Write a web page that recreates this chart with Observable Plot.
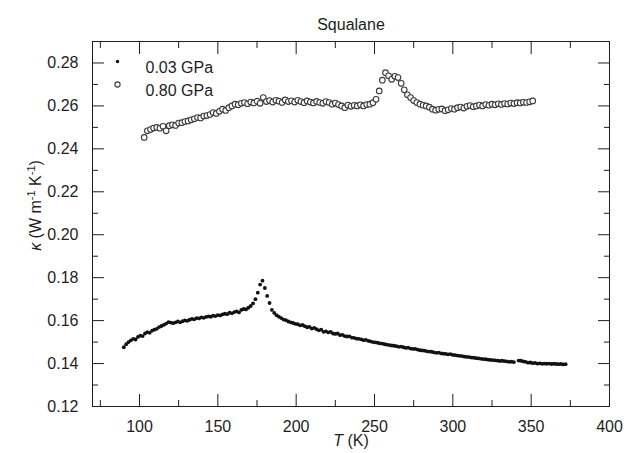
<!DOCTYPE html>
<html>
<head>
<meta charset="utf-8">
<script src="https://cdn.jsdelivr.net/npm/d3@7"></script>
<script src="https://cdn.jsdelivr.net/npm/@observablehq/plot@0.6"></script>
<style>
  html, body { margin: 0; padding: 0; background: #fff; }
</style>
</head>
<body>
<div id="chart"></div>
<script>
// ---- Data ----
const title = "Squalane";
const seriesNames = ["0.03 GPa", "0.80 GPa"];

// 0.03 GPa (filled dots): temperatures start at 90 K, every 1.5 K
const lowStartT = 90, lowStepT = 1.5;
const kappaLow = [
  0.1476,0.1490,0.1500,0.1508,0.1515,0.1512,0.1524,0.1530,0.1528,0.1540,
  0.1546,0.1543,0.1553,0.1558,0.1562,0.1570,0.1575,0.1580,0.1586,0.1593,
  0.1591,0.1588,0.1592,0.1596,0.1592,0.1597,0.1601,0.1599,0.1604,0.1608,
  0.1606,0.1612,0.1610,0.1615,0.1613,0.1617,0.1620,0.1618,0.1623,0.1621,
  0.1626,0.1624,0.1629,0.1632,0.1630,0.1637,0.1634,0.1640,0.1643,0.1638,
  0.1650,0.1654,0.1652,0.1660,0.1668,0.1680,0.1700,0.1730,0.1768,0.1786,
  0.1752,0.1715,0.1682,0.1650,0.1636,0.1625,0.1618,0.1612,0.1605,0.1602,
  0.1596,0.1592,0.1589,0.1585,0.1583,0.1578,0.1580,0.1574,0.1569,0.1571,
  0.1563,0.1566,0.1560,0.1555,0.1558,0.1548,0.1550,0.1545,0.1548,0.1540,
  0.1538,0.1540,0.1532,0.1534,0.1528,0.1526,0.1527,0.1521,0.1520,0.1516,
  0.1515,0.1513,0.1509,0.1510,0.1506,0.1503,0.1500,0.1499,0.1497,0.1494,
  0.1493,0.1490,0.1488,0.1486,0.1484,0.1483,0.1481,0.1478,0.1479,0.1476,
  0.1473,0.1474,0.1470,0.1468,0.1468,0.1465,0.1462,0.1461,0.1460,0.1457,
  0.1456,0.1455,0.1452,0.1450,0.1451,0.1447,0.1446,0.1445,0.1443,0.1444,
  0.1440,0.1439,0.1437,0.1436,0.1435,0.1432,0.1431,0.1430,0.1428,0.1427,
  0.1425,0.1424,0.1422,0.1421,0.1420,0.1418,0.1417,0.1416,0.1415,0.1414,
  0.1412,0.1413,0.1411,0.1410,0.1408,0.1409,0.1407,null,0.1414,0.1413,
  0.1410,0.1408,0.1404,0.1405,0.1402,0.1403,0.1400,0.1401,0.1399,0.1400,
  0.1399,0.1400,0.1398,0.1399,0.1398,0.1397,0.1398,0.1396,0.1397
];

// 0.80 GPa (open circles): temperatures start at 103 K, every 2 K
const highStartT = 103, highStepT = 2;
const kappaHigh = [
  0.2453,0.2484,0.2490,0.2497,0.2500,0.2496,0.2505,0.2484,0.2508,0.2512,
  0.2509,0.2520,0.2522,0.2527,0.2530,0.2535,0.2540,0.2546,0.2544,0.2553,
  0.2555,0.2560,0.2569,0.2565,0.2575,0.2585,0.2579,0.2592,0.2600,0.2608,
  0.2605,0.2612,0.2616,0.2610,0.2618,0.2614,0.2622,0.2612,0.2639,0.2620,
  0.2625,0.2618,0.2626,0.2622,0.2616,0.2628,0.2620,0.2624,0.2618,0.2626,
  0.2620,0.2615,0.2623,0.2618,0.2614,0.2621,0.2616,0.2612,0.2620,0.2616,
  0.2608,0.2613,0.2606,0.2600,0.2592,0.2604,0.2598,0.2603,0.2600,0.2605,
  0.2600,0.2606,0.2608,0.2615,0.2631,0.2670,0.2720,0.2755,0.2740,0.2724,
  0.2738,0.2732,0.2705,0.2675,0.2652,0.2639,0.2625,0.2616,0.2608,0.2603,
  0.2600,0.2594,0.2585,0.2580,0.2584,0.2586,0.2578,0.2582,0.2588,0.2585,
  0.2592,0.2595,0.2590,0.2598,0.2602,0.2596,0.2600,0.2604,0.2600,0.2606,
  0.2603,0.2608,0.2605,0.2610,0.2607,0.2611,0.2609,0.2613,0.2611,0.2615,
  0.2614,0.2617,0.2616,0.2619,0.2623
];

// Axis ticks
const xMajor = [100, 150, 200, 250, 300, 350, 400];
const xMinor = [75, 125, 175, 225, 275, 325, 375];
const yMajor = [0.12, 0.14, 0.16, 0.18, 0.20, 0.22, 0.24, 0.26, 0.28];
const yMinor = [0.13, 0.15, 0.17, 0.19, 0.21, 0.23, 0.25, 0.27];
const xDomain = [70, 400];
const yDomain = [0.12, 0.29];
const xLabel = "T (K)";
const yLabel = "κ (W m-1 K-1)";

// ---- Build tables ----
const low = kappaLow.map((k, i) => ({T: lowStartT + lowStepT * i, k})).filter(d => d.k != null);
const high = kappaHigh.map((k, i) => ({T: highStartT + highStepT * i, k}));

const ink = "#1e1e1e";
const blank = () => "";
const FS = 16;

const chart = Plot.plot({
  width: 634,
  height: 453,
  marginLeft: 92,
  marginRight: 25,
  marginTop: 41,
  marginBottom: 47,
  style: {fontFamily: "'Liberation Sans', Arial, sans-serif", fontSize: FS + "px", color: ink, background: "#fff"},
  x: {domain: xDomain},
  y: {domain: yDomain},
  marks: [
    // inward ticks on all four sides
    Plot.axisX(xMajor, {anchor: "bottom", tickSize: -12, tickFormat: blank, label: null, stroke: ink}),
    Plot.axisX(xMinor, {anchor: "bottom", tickSize: -6, tickFormat: blank, label: null, stroke: ink}),
    Plot.axisX(xMajor, {anchor: "top", tickSize: -12, tickFormat: blank, label: null, stroke: ink}),
    Plot.axisX(xMinor, {anchor: "top", tickSize: -6, tickFormat: blank, label: null, stroke: ink}),
    Plot.axisY(yMajor, {anchor: "left", tickSize: -12, tickFormat: blank, label: null, stroke: ink}),
    Plot.axisY(yMinor, {anchor: "left", tickSize: -6, tickFormat: blank, label: null, stroke: ink}),
    Plot.axisY(yMajor, {anchor: "right", tickSize: -12, tickFormat: blank, label: null, stroke: ink}),
    Plot.axisY(yMinor, {anchor: "right", tickSize: -6, tickFormat: blank, label: null, stroke: ink}),
    // tick labels
    Plot.axisX(xMajor, {anchor: "bottom", tickSize: 0, tickPadding: 14, label: null, fill: ink}),
    Plot.axisY(yMajor, {anchor: "left", tickSize: 0, tickPadding: 14, tickFormat: d3.format(".2f"), label: null, fill: ink}),
    Plot.frame({stroke: ink, strokeWidth: 1}),
    // data
    Plot.dot(high, {x: "T", y: "k", r: 2.8, stroke: "#3a3a3a", strokeWidth: 1.1, fill: "#fff"}),
    Plot.dot(low, {x: "T", y: "k", r: 1.9, fill: "#111", stroke: "none"}),
    // legend
    Plot.dot([seriesNames[0]], {frameAnchor: "top-left", dx: 25, dy: 20, r: 1.7, fill: "#111"}),
    Plot.dot([seriesNames[1]], {frameAnchor: "top-left", dx: 25, dy: 43, r: 2.6, stroke: "#3a3a3a", strokeWidth: 1.1, fill: "#fff"}),
    Plot.text([seriesNames[0]], {frameAnchor: "top-left", dx: 53, dy: 20, textAnchor: "start", fontSize: FS, fill: ink}),
    Plot.text([seriesNames[1]], {frameAnchor: "top-left", dx: 53, dy: 43, textAnchor: "start", fontSize: FS, fill: ink}),
    // title and axis labels
    Plot.text([title], {frameAnchor: "top", dy: -23, fontSize: FS, fill: ink}),
    Plot.text([xLabel], {frameAnchor: "bottom", dy: 39, fontSize: FS, fill: ink}),
    Plot.text([yLabel], {frameAnchor: "top-left", dx: -63, dy: 164, rotate: -90, textAnchor: "middle", fontSize: FS, fill: ink})
  ]
});

// rich text: italic symbols and superscripts
const SVGNS = "http://www.w3.org/2000/svg";
function rich(svg, match, parts) {
  svg.querySelectorAll("text").forEach(t => {
    if (t.textContent === match) {
      t.textContent = "";
      for (const p of parts) {
        const ts = document.createElementNS(SVGNS, "tspan");
        ts.textContent = p.t;
        if (p.italic) ts.setAttribute("font-style", "italic");
        if (p.sup) { ts.setAttribute("font-size", "11"); ts.setAttribute("dy", "-6"); }
        if (p.down) ts.setAttribute("dy", "6");
        t.appendChild(ts);
      }
    }
  });
}
document.getElementById("chart").appendChild(chart);
rich(chart, xLabel, [{t: "T", italic: true}, {t: " (K)"}]);
rich(chart, yLabel, [{t: "κ", italic: true}, {t: " (W m"}, {t: "-1", sup: true}, {t: " K", down: true}, {t: "-1", sup: true}, {t: ")", down: true}]);
</script>
</body>
</html>
